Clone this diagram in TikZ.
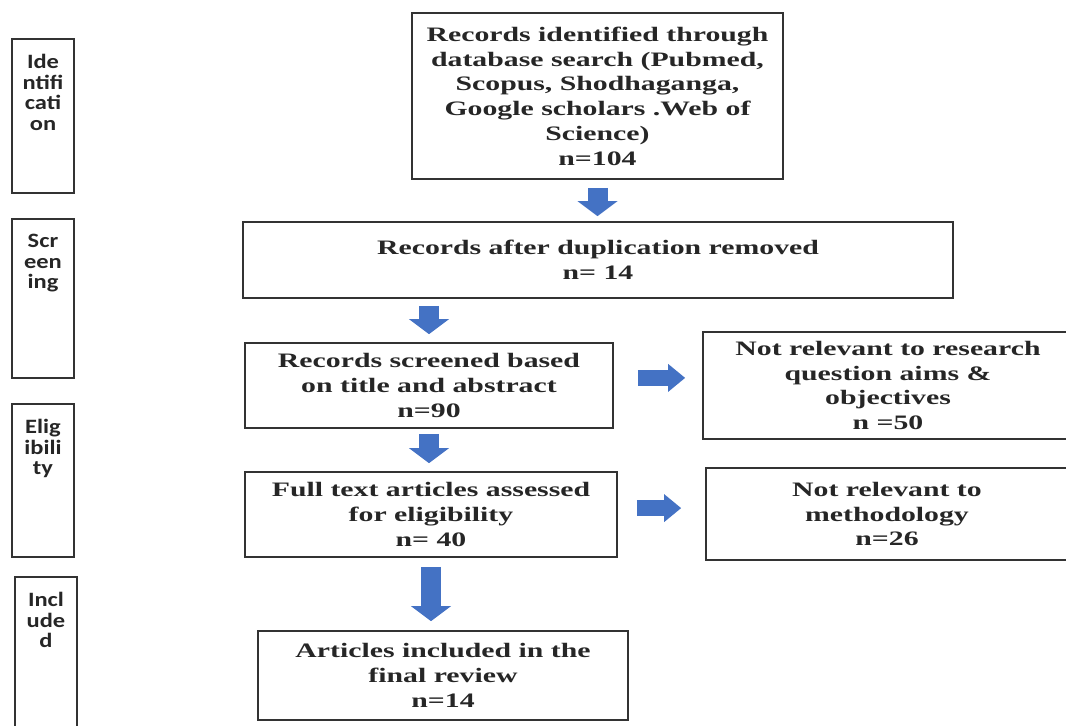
\documentclass[tikz,border=0pt]{standalone}
\usepackage{fontspec}
\setmainfont{Liberation Serif}[FakeStretch=1.45]
\newfontfamily\stagefont{Carlito}[FakeStretch=1.2]
\usepackage{xcolor}
\usetikzlibrary{arrows.meta, calc}

\definecolor{arrowblue}{HTML}{4472C4}
\definecolor{edgegray}{HTML}{333333}

\tikzset{
  recbox/.style={draw=edgegray, line width=1.2pt, align=center, inner sep=0pt,
    text=black!85, font=\fontsize{14.6}{17.6}\selectfont\bfseries},
  stagebox/.style={draw=edgegray, line width=1.2pt, minimum width=1.55cm, inner sep=0pt},
  stagetext/.style={anchor=north, yshift=-0.4cm, inner sep=0pt, align=center,
    text=black!85, font=\stagefont\fontsize{14.5}{14.6}\selectfont\bfseries},
  flowdown/.style={arrowblue, line width=0.5cm,
    -{Triangle[width=1cm, length=0.375cm, line width=0pt]}},
  flowright/.style={arrowblue, line width=0.4cm,
    -{Triangle[width=0.7cm, length=0.425cm, line width=0pt]}}
}

\begin{document}
\begin{tikzpicture}[x=0.025cm, y=-0.025cm]
    \useasboundingbox (0,0) rectangle (1066,725);
    \clip (0,0) rectangle (1066,725);

    % Stage boxes (left)
    \node[stagebox, minimum height=3.85cm,
      label={[stagetext]north:{Ide\\ntifi\\cati\\on}}] (ident) at (43,116) {};
    \node[stagebox, minimum height=3.975cm,
      label={[stagetext]north:{Scr\\een\\ing}}] (screen) at (43,298.5) {};
    \node[stagebox, minimum height=3.825cm,
      label={[stagetext]north:{Elig\\ibili\\ty}}] (elig) at (43,480.5) {};
    \node[stagebox, minimum height=4.075cm,
      label={[stagetext]north:{Incl\\ude\\d}}] (incl) at (46,658.5) {};

    % Main flow
    \node[recbox, minimum width=9.275cm, minimum height=4.15cm] (found) at (597.5,96)
      {Records identified through\\database search (Pubmed,\\Scopus, Shodhaganga,\\Google scholars .Web of\\Science)\\n=104};
    \node[recbox, minimum width=17.75cm, minimum height=1.9cm] (dedup) at (598,260)
      {Records after duplication removed\\n= 14};
    \node[recbox, minimum width=9.2cm, minimum height=2.125cm] (screened) at (429,385.5)
      {Records screened based\\on title and abstract\\n=90};
    \node[recbox, minimum width=9.3cm, minimum height=2.125cm] (fulltext) at (431,514.5)
      {Full text articles assessed\\for eligibility\\n= 40};
    \node[recbox, minimum width=9.25cm, minimum height=2.225cm] (included) at (443,675.5)
      {Articles included in the\\final review\\n=14};

    % Exclusions (right)
    \node[recbox, minimum width=9.25cm, minimum height=2.675cm] (notaims) at (888,385.5)
      {Not relevant to research\\question aims \&\\objectives\\n =50};
    \node[recbox, minimum width=9.05cm, minimum height=2.3cm] (notmeth) at (887,514)
      {Not relevant to\\methodology\\n=26};

    % Block arrows
    \draw[flowdown, shorten <=0.2cm, shorten >=0.125cm] (found.south) -- (found.south |- dedup.north);
    \draw[flowdown, shorten <=0.175cm, shorten >=0.2cm] (screened.north |- dedup.south) -- (screened.north);
    \draw[flowdown, shorten <=0.125cm, shorten >=0.2cm] (screened.south) -- (screened.south |- fulltext.north);
    \draw[flowdown, shorten <=0.225cm, shorten >=0.225cm] (fulltext.south) -- (fulltext.south |- included.north);
    \draw[flowright, shorten <=0.6cm, shorten >=0.425cm] ([yshift=0.19cm]screened.east) -- ([yshift=0.19cm]screened.east -| notaims.west);
    \draw[flowright, shorten <=0.475cm, shorten >=0.6cm] ([yshift=0.16cm]fulltext.east) -- ([yshift=0.16cm]fulltext.east -| notmeth.west);
\end{tikzpicture}
\end{document}
